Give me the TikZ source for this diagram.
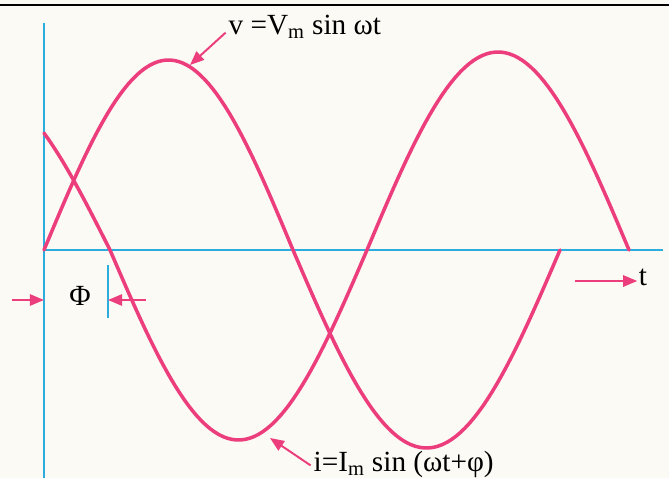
\documentclass[tikz,border=0pt]{standalone}
\usepackage{fontspec}
\setmainfont{Liberation Serif}
\usetikzlibrary{arrows.meta}

\definecolor{onde}{RGB}{236,62,124}
\definecolor{axe}{RGB}{45,172,222}
\definecolor{papier}{RGB}{251,250,244}

\tikzset{wave/.style={draw=onde, line width=2.5pt, line cap=round},
         axisline/.style={draw=axe, line width=1.1pt},
         pointer/.style={draw=onde, line width=1.4pt, -{Triangle[length=10pt, width=8pt]}},
         lbl/.style={inner sep=1pt, font=\fontsize{20.8}{24}\selectfont}}

\begin{document}
\begin{tikzpicture}[x=0.025cm, y=-0.025cm]
            % Le cadre
            \useasboundingbox (0,0) rectangle (669,478);
            \fill[papier] (0,0) rectangle (669,478);
            \draw[line width=2pt] (0,5) -- (669,5);

            % Les axes
            \coordinate (O) at (44,250);
            \coordinate (ytop) at (44,23);
            \coordinate (ybot) at (44,478);
            \coordinate (xend) at (663,250);
            \draw[axisline] (ytop) -- (ybot);
            \draw[axisline] (O) -- (xend);

            % La tension v
            \draw[wave] plot[domain=44:293, samples=60] (\x, {250-190*sin((\x-44)/249*180)});
            \draw[wave] plot[domain=293:560, samples=60] (\x, {250+198*sin((\x-293)/267*180)});

            % Le courant i
            \draw[wave] plot[domain=44:110, samples=20] (\x, {250-162*sin((110-\x)/257*180)});
            \draw[wave] plot[domain=110:367, samples=60] (\x, {250+190*sin((\x-110)/257*180)});
            \draw[wave] plot[domain=367:629, samples=60] (\x, {250-198*sin((\x-367)/262*180)});

            % Les etiquettes
            \node[lbl, anchor=west] (vlabel) at (227,27) {v =V\textsubscript{m} sin ωt};
            \node[lbl, anchor=west] (ilabel) at (312,464) {i=I\textsubscript{m} sin (ωt+φ)};
            \coordinate (vtip) at (190,65);
            \coordinate (itip) at (270,438);
            \draw[pointer] ([xshift=-1pt, yshift=-4pt]vlabel.west) -- (vtip);
            \draw[pointer] ([xshift=-1pt, yshift=-1pt]ilabel.west) -- (itip);

            % Le dephasage
            \node[lbl] (phi) at (80,296) {Φ};
            \coordinate (tickhaut) at (108,265);
            \coordinate (tickbas) at (108,318);
            \draw[axisline] (tickhaut) -- (tickbas);
            \coordinate (gauche) at (12,300);
            \coordinate (droite) at (146,300);
            \draw[pointer] (gauche) -- (44,300);
            \draw[pointer] (droite) -- (108,300);

            % Le temps
            \node[lbl] (t) at (643,277) {t};
            \coordinate (tstart) at (575,281);
            \draw[pointer] (tstart) -- (tstart -| t.west);
        \end{tikzpicture}
\end{document}
